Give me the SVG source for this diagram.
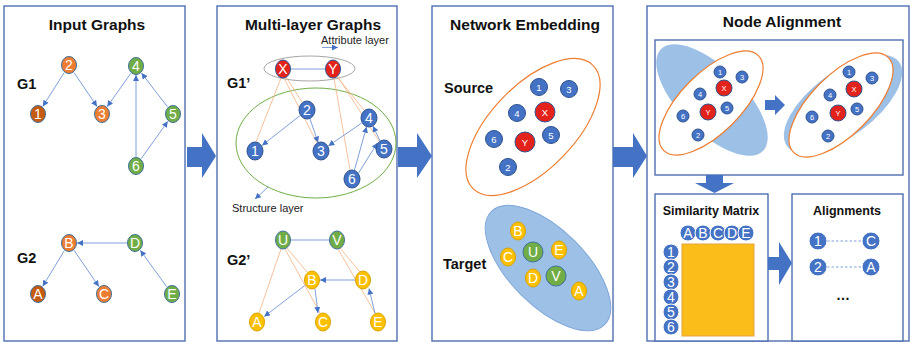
<svg xmlns="http://www.w3.org/2000/svg" width="912" height="345" viewBox="0 0 912 345">
<style>
.panel{fill:#fff;stroke:#4f6fb3;stroke-width:1.4}
.title{font-family:"Liberation Sans",Arial,sans-serif;font-weight:bold;font-size:15.5px;fill:#111;text-anchor:middle}
.lbl{font-family:"Liberation Sans",Arial,sans-serif;font-weight:bold;font-size:14.5px;fill:#111}
.small{font-family:"Liberation Sans",Arial,sans-serif;font-size:11px;fill:#222}
.nt{font-family:"Liberation Sans",Arial,sans-serif;fill:#fff;text-anchor:middle;dominant-baseline:central;font-size:14px}
.nt9{font-family:"Liberation Sans",Arial,sans-serif;fill:#fff;text-anchor:middle;dominant-baseline:central;font-size:9.5px}
.nt7{font-family:"Liberation Sans",Arial,sans-serif;fill:#fff;text-anchor:middle;dominant-baseline:central;font-size:7.5px}
.blue{fill:#4472c4;stroke:#2f528f;stroke-width:1}
.orange{fill:#ed7d31;stroke:#41719c;stroke-width:1}
.dorange{fill:#c55a11;stroke:#41719c;stroke-width:1}
.green{fill:#70ad47;stroke:#41719c;stroke-width:1}
.red{fill:#e3231b;stroke:#2f528f;stroke-width:1}
.yellow{fill:#ffc000;stroke:#d9a300;stroke-width:1}
.edge{stroke:#5f86cf;stroke-width:0.8;fill:none;marker-end:url(#ah)}
.plain{stroke:#5f86cf;stroke-width:0.8;fill:none}
.attr{stroke:#f4b183;stroke-width:0.8;fill:none}
.big{fill:#4472c4}
.dash{stroke:#7d9fd8;stroke-width:1;stroke-dasharray:2.5,2;fill:none}
.mc{fill:#4472c4;stroke:#fff;stroke-width:1}
</style>
<defs>
<marker id="ah" viewBox="0 0 10 10" refX="10" refY="5" markerWidth="6" markerHeight="6" markerUnits="userSpaceOnUse" orient="auto">
<path d="M0,0 L10,5 L0,10 z" fill="#4472c4"/>
</marker>
</defs>

<g id="panels">
<rect class="panel" x="4" y="6" width="181" height="335"/>
<rect class="panel" x="217" y="6" width="180" height="335"/>
<rect class="panel" x="432" y="6" width="181" height="335"/>
<rect class="panel" x="647" y="6" width="262" height="335"/>
<rect class="panel" x="655" y="40" width="248" height="135"/>
<rect class="panel" x="655" y="194" width="113" height="147"/>
<rect class="panel" x="792" y="194" width="111" height="147"/>
</g>

<g id="labels">
<text class="title" x="97" y="30">Input Graphs</text>
<text class="title" x="313" y="30">Multi-layer Graphs</text>
<text class="title" x="525" y="30">Network Embedding</text>
<text class="title" x="782" y="27">Node Alignment</text>
<text class="lbl" x="17" y="89">G1</text>
<text class="lbl" x="17" y="263">G2</text>
<text class="lbl" x="227" y="88">G1’</text>
<text class="lbl" x="227" y="265">G2’</text>
<text class="lbl" x="444" y="93">Source</text>
<text class="lbl" x="443" y="269">Target</text>
<text class="small" x="321" y="44">Attribute layer</text>
<text class="small" x="232" y="212">Structure layer</text>
<text class="title" x="711" y="215" style="font-size:12.5px">Similarity Matrix</text>
<text class="title" x="847" y="215" style="font-size:12.5px">Alignments</text>
<text class="title" x="843" y="300" style="font-size:14px">…</text>
</g>

<g id="flow-arrows">
<polygon class="big" points="187,147 202,147 202,133 216,156 202,178 202,167 187,167"/>
<polygon class="big" points="398,147 417,147 417,133 432,156 417,178 417,167 398,167"/>
<polygon class="big" points="613,147 633,147 633,133 647,156 633,178 633,167 613,167"/>
<polygon class="big" points="706,175 723,175 723,183 734,183 714.5,193 695,183 706,183"/>
<polygon class="big" points="768,257 779,257 779,242 792,263 779,285 779,270 768,270"/>
<polygon class="big" points="765,100 775,100 775,95 785,105 775,115 775,110 765,110"/>
</g>

<g id="regions">
<ellipse cx="309.5" cy="68.5" rx="45.5" ry="12.5" fill="none" stroke="#a5a5a5" stroke-width="1"/>
<ellipse cx="316" cy="143" rx="80" ry="55" fill="none" stroke="#70ad47" stroke-width="1"/>
<ellipse cx="533" cy="127" rx="86" ry="42" transform="rotate(-46 533 127)" fill="none" stroke="#ed7d31" stroke-width="1.2"/>
<ellipse cx="548" cy="268" rx="80" ry="38" transform="rotate(45 548 268)" fill="#9dc0e6" stroke="#7fa6d8" stroke-width="1"/>
<ellipse cx="712" cy="100" rx="72" ry="32" transform="rotate(45 712 100)" fill="#9dc0e6"/>
<ellipse cx="711" cy="103" rx="67" ry="30" transform="rotate(-45 711 103)" fill="#fff" stroke="#ed7d31" stroke-width="1.2"/>
<ellipse cx="843" cy="104" rx="70" ry="32" transform="rotate(-37 843 104)" fill="#9dc0e6"/>
<ellipse cx="841" cy="105" rx="67" ry="30" transform="rotate(-45 841 105)" fill="#fff" stroke="#ed7d31" stroke-width="1.2"/>
<rect x="682" y="244" width="72" height="92" fill="#fbbd19" stroke="#e8a33c" stroke-width="1"/>
</g>

<g id="connectors">
<line class="edge" x1="64.2" y1="72.6" x2="42.8" y2="106.4"/>
<line class="edge" x1="74" y1="72.5" x2="97" y2="106.5"/>
<line class="edge" x1="130.8" y1="73.3" x2="107.2" y2="106.7"/>
<line class="edge" x1="136" y1="157" x2="136" y2="75"/>
<line class="edge" x1="141.2" y1="158.7" x2="167.8" y2="121.3"/>
<line class="edge" x1="167.5" y1="106.9" x2="141.5" y2="73.1"/>
<line class="edge" x1="127" y1="243" x2="77" y2="243"/>
<line class="edge" x1="64.3" y1="250.7" x2="42.7" y2="286.3"/>
<line class="edge" x1="74.1" y1="250.4" x2="98.9" y2="286.6"/>
<line class="edge" x1="166.7" y1="286.7" x2="140.3" y2="250.3"/>

<line class="edge" x1="322" y1="47.5" x2="338" y2="47.5"/>
<line class="edge" x1="268" y1="187" x2="255" y2="199"/>
<line class="attr" x1="281" y1="78" x2="256" y2="142"/>
<line class="attr" x1="286" y1="77" x2="302" y2="102"/>
<line class="attr" x1="284" y1="78" x2="317" y2="143"/>
<line class="attr" x1="334" y1="78" x2="350" y2="170"/>
<line class="attr" x1="337" y1="77" x2="364" y2="110"/>
<line class="attr" x1="338" y1="77" x2="379" y2="141"/>
<line class="plain" x1="291" y1="69" x2="325" y2="69"/>
<line class="edge" x1="300" y1="115.6" x2="262.1" y2="145.4"/>
<line class="edge" x1="309.9" y1="118.5" x2="318.1" y2="142.5"/>
<line class="edge" x1="361.6" y1="123.1" x2="328.4" y2="145.9"/>
<line class="edge" x1="354.4" y1="170.3" x2="366.6" y2="126.7"/>
<line class="edge" x1="358.6" y1="172.9" x2="377.4" y2="142.9"/>
<line class="edge" x1="380.1" y1="140.9" x2="372.9" y2="126.1"/>

<line class="attr" x1="281" y1="249" x2="259" y2="313"/>
<line class="attr" x1="287" y1="248" x2="307" y2="272"/>
<line class="attr" x1="285" y1="249" x2="320" y2="313"/>
<line class="attr" x1="340" y1="248" x2="360" y2="272"/>
<line class="attr" x1="338" y1="249" x2="375" y2="313"/>
<line class="plain" x1="291" y1="240" x2="329" y2="240"/>
<line class="edge" x1="355" y1="280" x2="320" y2="280"/>
<line class="edge" x1="304.8" y1="285.5" x2="264.2" y2="316.5"/>
<line class="edge" x1="315" y1="289" x2="318" y2="313"/>
<line class="edge" x1="375" y1="313.5" x2="369" y2="288.5"/>

<line class="dash" x1="827" y1="241" x2="862" y2="241"/>
<line class="dash" x1="827" y1="267" x2="862" y2="267"/>
</g>

<g id="g1-2"><ellipse class="orange" cx="69" cy="65" rx="7.5" ry="8.5"/><text class="nt" x="69" y="65">2</text></g>
<g id="g1-4"><ellipse class="green" cx="136" cy="66" rx="7.5" ry="8.5"/><text class="nt" x="136" y="66">4</text></g>
<g id="g1-1"><ellipse class="dorange" cx="38" cy="114" rx="7.5" ry="8.5"/><text class="nt" x="38" y="114">1</text></g>
<g id="g1-3"><ellipse class="orange" cx="102" cy="114" rx="7.5" ry="8.5"/><text class="nt" x="102" y="114">3</text></g>
<g id="g1-5"><ellipse class="green" cx="173" cy="114" rx="7.5" ry="8.5"/><text class="nt" x="173" y="114">5</text></g>
<g id="g1-6"><ellipse class="green" cx="136" cy="166" rx="7.5" ry="8.5"/><text class="nt" x="136" y="166">6</text></g>
<g id="g2-B"><ellipse class="orange" cx="69" cy="243" rx="7.5" ry="8.5"/><text class="nt" x="69" y="243">B</text></g>
<g id="g2-D"><ellipse class="green" cx="135" cy="243" rx="7.5" ry="8.5"/><text class="nt" x="135" y="243">D</text></g>
<g id="g2-A"><ellipse class="dorange" cx="38" cy="294" rx="7.5" ry="8.5"/><text class="nt" x="38" y="294">A</text></g>
<g id="g2-C"><ellipse class="orange" cx="104" cy="294" rx="7.5" ry="8.5"/><text class="nt" x="104" y="294">C</text></g>
<g id="g2-E"><ellipse class="green" cx="172" cy="294" rx="7.5" ry="8.5"/><text class="nt" x="172" y="294">E</text></g>

<g id="g1p-X"><ellipse class="red" cx="283" cy="69" rx="7.5" ry="9"/><text class="nt" x="283" y="69">X</text></g>
<g id="g1p-Y"><ellipse class="red" cx="333" cy="69" rx="7.5" ry="9"/><text class="nt" x="333" y="69">Y</text></g>
<g id="g1p-2"><ellipse class="blue" cx="307" cy="110" rx="8" ry="9"/><text class="nt" x="307" y="110">2</text></g>
<g id="g1p-1"><ellipse class="blue" cx="255" cy="151" rx="8" ry="9"/><text class="nt" x="255" y="151">1</text></g>
<g id="g1p-3"><ellipse class="blue" cx="321" cy="151" rx="8" ry="9"/><text class="nt" x="321" y="151">3</text></g>
<g id="g1p-4"><ellipse class="blue" cx="369" cy="118" rx="8" ry="9"/><text class="nt" x="369" y="118">4</text></g>
<g id="g1p-5"><ellipse class="blue" cx="384" cy="149" rx="8" ry="9"/><text class="nt" x="384" y="149">5</text></g>
<g id="g1p-6"><ellipse class="blue" cx="352" cy="179" rx="8" ry="9"/><text class="nt" x="352" y="179">6</text></g>
<g id="g2p-U"><ellipse class="green" cx="283" cy="240" rx="7.5" ry="9"/><text class="nt" x="283" y="240">U</text></g>
<g id="g2p-V"><ellipse class="green" cx="337" cy="240" rx="7.5" ry="9"/><text class="nt" x="337" y="240">V</text></g>
<g id="g2p-B"><ellipse class="yellow" cx="312" cy="280" rx="7.5" ry="9"/><text class="nt" x="312" y="280">B</text></g>
<g id="g2p-D"><ellipse class="yellow" cx="363" cy="280" rx="7.5" ry="9"/><text class="nt" x="363" y="280">D</text></g>
<g id="g2p-A"><ellipse class="yellow" cx="257" cy="322" rx="7.5" ry="9"/><text class="nt" x="257" y="322">A</text></g>
<g id="g2p-C"><ellipse class="yellow" cx="323" cy="322" rx="7.5" ry="9"/><text class="nt" x="323" y="322">C</text></g>
<g id="g2p-E"><ellipse class="yellow" cx="378" cy="322" rx="7.5" ry="9"/><text class="nt" x="378" y="322">E</text></g>

<g id="src-1"><circle class="blue" cx="539" cy="87" r="8.5"/><text class="nt9" x="539" y="87">1</text></g>
<g id="src-3"><circle class="blue" cx="569" cy="89" r="8.5"/><text class="nt9" x="569" y="89">3</text></g>
<g id="src-4"><circle class="blue" cx="517" cy="113" r="8.5"/><text class="nt9" x="517" y="113">4</text></g>
<g id="src-X"><circle class="red" cx="545" cy="112" r="10"/><text class="nt9" x="545" y="112">X</text></g>
<g id="src-6"><circle class="blue" cx="494" cy="139" r="8.5"/><text class="nt9" x="494" y="139">6</text></g>
<g id="src-Y"><circle class="red" cx="525" cy="142" r="10"/><text class="nt9" x="525" y="142">Y</text></g>
<g id="src-5"><circle class="blue" cx="551" cy="135" r="8.5"/><text class="nt9" x="551" y="135">5</text></g>
<g id="src-2"><circle class="blue" cx="508" cy="167" r="8.5"/><text class="nt9" x="508" y="167">2</text></g>
<g id="tgt-B"><ellipse class="yellow" cx="518" cy="231" rx="7.5" ry="9"/><text class="nt" x="518" y="231">B</text></g>
<g id="tgt-U"><circle class="green" cx="533" cy="252" r="10"/><text class="nt" x="533" y="252">U</text></g>
<g id="tgt-E"><ellipse class="yellow" cx="559" cy="250" rx="7.5" ry="9"/><text class="nt" x="559" y="250">E</text></g>
<g id="tgt-C"><ellipse class="yellow" cx="508" cy="257" rx="7.5" ry="9"/><text class="nt" x="508" y="257">C</text></g>
<g id="tgt-D"><ellipse class="yellow" cx="533" cy="278" rx="7.5" ry="9"/><text class="nt" x="533" y="278">D</text></g>
<g id="tgt-V"><circle class="green" cx="556" cy="276" r="10"/><text class="nt" x="556" y="276">V</text></g>
<g id="tgt-A"><ellipse class="yellow" cx="579" cy="291" rx="7.5" ry="9"/><text class="nt" x="579" y="291">A</text></g>

<g id="al-l-1"><circle class="blue" cx="720" cy="72" r="6"/><text class="nt7" x="720" y="72">1</text></g>
<g id="al-l-3"><circle class="blue" cx="742" cy="77" r="6"/><text class="nt7" x="742" y="77">3</text></g>
<g id="al-l-X"><circle class="red" cx="724" cy="88" r="8"/><text class="nt7" x="724" y="88">X</text></g>
<g id="al-l-4"><circle class="blue" cx="700" cy="94" r="6"/><text class="nt7" x="700" y="94">4</text></g>
<g id="al-l-5"><circle class="blue" cx="727" cy="108" r="6"/><text class="nt7" x="727" y="108">5</text></g>
<g id="al-l-Y"><circle class="red" cx="708" cy="112" r="8"/><text class="nt7" x="708" y="112">Y</text></g>
<g id="al-l-6"><circle class="blue" cx="683" cy="116" r="6"/><text class="nt7" x="683" y="116">6</text></g>
<g id="al-l-2"><circle class="blue" cx="698" cy="135" r="6"/><text class="nt7" x="698" y="135">2</text></g>
<g id="al-r-1"><circle class="blue" cx="849" cy="72" r="6"/><text class="nt7" x="849" y="72">1</text></g>
<g id="al-r-3"><circle class="blue" cx="872" cy="78" r="6"/><text class="nt7" x="872" y="78">3</text></g>
<g id="al-r-X"><circle class="red" cx="854" cy="89" r="8"/><text class="nt7" x="854" y="89">X</text></g>
<g id="al-r-4"><circle class="blue" cx="830" cy="95" r="6"/><text class="nt7" x="830" y="95">4</text></g>
<g id="al-r-5"><circle class="blue" cx="857" cy="109" r="6"/><text class="nt7" x="857" y="109">5</text></g>
<g id="al-r-Y"><circle class="red" cx="838" cy="113" r="8"/><text class="nt7" x="838" y="113">Y</text></g>
<g id="al-r-6"><circle class="blue" cx="812" cy="117" r="6"/><text class="nt7" x="812" y="117">6</text></g>
<g id="al-r-2"><circle class="blue" cx="828" cy="136" r="6"/><text class="nt7" x="828" y="136">2</text></g>

<g id="sm-A"><circle class="mc" cx="688" cy="233" r="8"/><text class="nt" x="688" y="233">A</text></g>
<g id="sm-B"><circle class="mc" cx="703" cy="233" r="8"/><text class="nt" x="703" y="233">B</text></g>
<g id="sm-C"><circle class="mc" cx="718" cy="233" r="8"/><text class="nt" x="718" y="233">C</text></g>
<g id="sm-D"><circle class="mc" cx="732" cy="233" r="8"/><text class="nt" x="732" y="233">D</text></g>
<g id="sm-E"><circle class="mc" cx="746" cy="233" r="8"/><text class="nt" x="746" y="233">E</text></g>
<g id="sm-1"><circle class="mc" cx="671" cy="252" r="8"/><text class="nt" x="671" y="252">1</text></g>
<g id="sm-2"><circle class="mc" cx="671" cy="267" r="8"/><text class="nt" x="671" y="267">2</text></g>
<g id="sm-3"><circle class="mc" cx="671" cy="282" r="8"/><text class="nt" x="671" y="282">3</text></g>
<g id="sm-4"><circle class="mc" cx="671" cy="297" r="8"/><text class="nt" x="671" y="297">4</text></g>
<g id="sm-5"><circle class="mc" cx="671" cy="312" r="8"/><text class="nt" x="671" y="312">5</text></g>
<g id="sm-6"><circle class="mc" cx="671" cy="327" r="8"/><text class="nt" x="671" y="327">6</text></g>

<g id="al-1"><circle class="mc" cx="818" cy="241" r="9"/><text class="nt" x="818" y="241">1</text></g>
<g id="al-C"><circle class="mc" cx="871" cy="241" r="9"/><text class="nt" x="871" y="241">C</text></g>
<g id="al-2"><circle class="mc" cx="818" cy="267" r="9"/><text class="nt" x="818" y="267">2</text></g>
<g id="al-A"><circle class="mc" cx="871" cy="267" r="9"/><text class="nt" x="871" y="267">A</text></g>
</svg>
